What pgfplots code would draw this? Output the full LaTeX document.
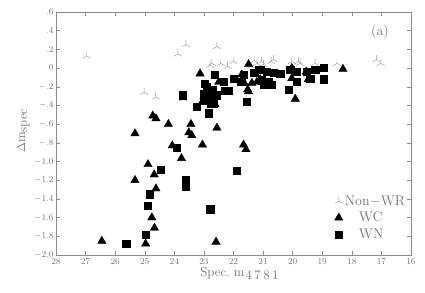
\documentclass[border=0pt]{standalone}
\usepackage{pgfplots}
\pgfplotsset{compat=1.18}
\usetikzlibrary{plotmarks}
\definecolor{axgray}{gray}{0.55}
\definecolor{txtgray}{gray}{0.45}
\begin{document}
\begin{tikzpicture}
\begin{axis}[
  scale only axis, width=355pt, height=243pt,
  x dir=reverse,
  xmin=16, xmax=28, ymin=-2.0, ymax=0.6,
  xtick={16,17,...,28},
  ytick={-2.0,-1.8,-1.6,-1.4,-1.2,-1.0,-0.8,-0.6,-0.4,-0.2,0,0.2,0.4,0.6},
  yticklabels={$-2.0$,$-1.8$,$-1.6$,$-1.4$,$-1.2$,$-1.0$,$-.8$,$-.6$,$-.4$,$-.2$,$0$,$.2$,$.4$,$.6$},
  tick align=inside, major tick length=4pt,
  every tick/.style={axgray, line width=0.4pt},
  axis line style={axgray, line width=0.5pt},
  tick label style={font=\fontsize{9.5}{11}\selectfont, text=txtgray},
  yticklabel style={xshift=1pt},
  xticklabel style={yshift=0pt},
  xlabel={Spec.\ m\hspace{1pt}\raisebox{-3.5pt}{4\hspace{2.5pt}7\hspace{2.5pt}8\hspace{2.5pt}1}},
  ylabel={$\Delta$m\raisebox{-2pt}{spec}},
  label style={font=\fontsize{13}{15}\selectfont, text=txtgray},
  xlabel style={yshift=4pt, xshift=6pt},
  ylabel style={yshift=-2pt, xshift=3pt},
  legend style={draw=none, fill=none, at={(0.998,0.262)}, anchor=north east,
    font=\fontsize{14}{16}\selectfont, text=txtgray, row sep=1.5pt},
  legend cell align=left,
]
\addplot[only marks, mark=Mercedes star, mark size=4.5pt, color=gray!85, mark options={line width=0.4pt}] coordinates {
(26.96,0.13) (23.61,0.25) (23.88,0.15) (25.02,-0.26) (24.63,-0.31) (23.70,-0.33)
(22.56,0.23) (22.79,0.03) (22.73,0.05) (22.43,0.05) (22.00,0.07) (21.06,0.07)
(20.99,0.04) (20.73,0.07) (20.65,0.09) (21.40,0.02) (21.20,0.05) (20.03,0.07)
(19.80,0.07) (19.75,0.05) (19.24,0.05) (18.50,0.05) (17.17,0.09) (17.02,0.05)
(22.20,0.02) (21.30,0.08)
};
\addlegendentry{Non$-$WR}
\addplot[only marks, mark=triangle*, mark size=4.8pt, color=black] coordinates {
(26.45,-1.85) (24.97,-1.88) (24.67,-1.71) (24.76,-1.60) (24.62,-1.29) (25.33,-1.20)
(24.68,-1.14) (24.89,-1.03) (23.76,-0.965) (24.07,-0.83) (23.05,-0.82) (21.66,-0.82)
(21.58,-0.87) (22.59,-1.86) (24.73,-0.51) (24.62,-0.54) (25.33,-0.70) (24.20,-0.60)
(23.44,-0.60) (23.51,-0.69) (23.41,-0.72) (23.05,-0.36) (22.56,-0.64) (23.13,-0.06)
(21.49,0.04) (21.64,-0.16) (21.49,-0.25) (21.72,-0.07) (21.21,-0.15) (21.66,-0.15)
(21.52,-0.23) (21.38,-0.16) (21.10,-0.12) (20.03,0.0) (20.03,-0.11) (19.54,-0.04)
(19.47,-0.12) (19.91,-0.33) (22.62,-0.39) (18.30,-0.01) (22.50,-0.15) (22.80,-0.25)
(23.00,-0.30)
};
\addlegendentry{\hspace{14pt}WC}
\addplot[only marks, mark=square*, mark size=3.6pt, color=black] coordinates {
(25.63,-1.88) (24.97,-1.78) (24.91,-1.47) (24.83,-1.35) (24.45,-1.09) (23.61,-1.20)
(23.61,-1.27) (22.79,-1.51) (21.89,-1.10) (23.92,-0.85) (23.73,-0.29) (22.64,-0.07)
(22.97,-0.17) (23.24,-0.41) (22.77,-0.38) (22.84,-0.49) (22.34,-0.15) (22.00,-0.11)
(22.70,-0.23) (22.28,-0.24) (22.99,-0.27) (22.56,-0.29) (22.79,-0.32) (21.74,-0.15)
(21.66,-0.07) (21.30,-0.05) (21.08,-0.02) (21.04,-0.13) (20.82,-0.15) (22.17,-0.24)
(21.16,-0.02) (20.87,-0.04) (20.65,-0.05) (20.42,-0.06) (20.08,-0.02) (19.86,-0.04)
(19.52,-0.04) (19.24,-0.02) (18.96,0.0) (18.96,-0.12) (20.99,-0.18) (20.70,-0.18)
(20.14,-0.23) (19.86,-0.15) (19.41,-0.11) (21.55,-0.36) (22.85,-0.48) (22.68,-0.38)
(22.90,-0.20) (23.00,-0.35)
};
\addlegendentry{\hspace{14pt}WN}
\node[font=\fontsize{14}{16}\selectfont, text=txtgray] at (axis cs:17.05,0.39) {(a)};
\end{axis}
\pgfresetboundingbox
\path ([shift={(-56pt,-38pt)}]current axis.south west) rectangle ([shift={(14pt,12pt)}]current axis.north east);
\end{tikzpicture}
\end{document}
